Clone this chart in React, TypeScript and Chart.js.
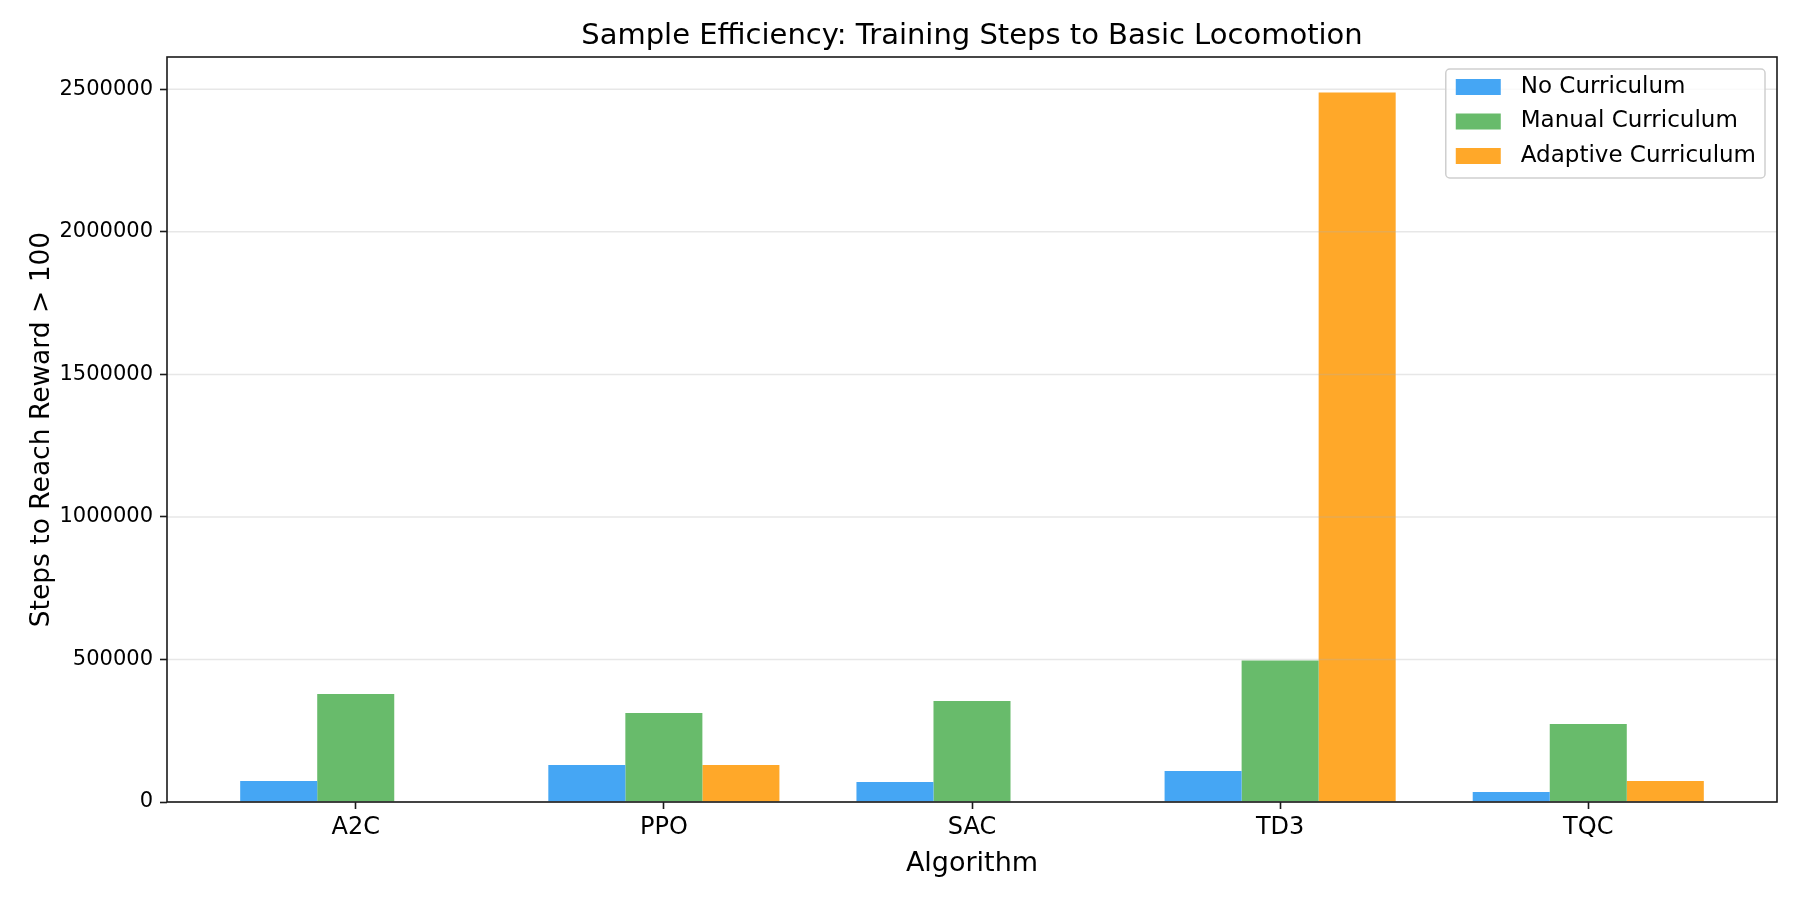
import React, { useEffect, useRef } from 'react';
import { Chart, registerables } from 'chart.js';

Chart.register(...registerables);

// values
const algorithms = ['A2C', 'PPO', 'SAC', 'TD3', 'TQC'];
const noCurriculum = [74000, 130000, 70000, 109000, 35000];
const manualCurriculum = [379000, 312000, 354000, 496000, 274000];
const adaptiveCurriculum = [null, 130000, null, 2489000, 74000];
const seriesLabels = ['No Curriculum', 'Manual Curriculum', 'Adaptive Curriculum'];
const seriesColors = ['#45A6F4', '#68BB6B', '#FFA829'];
const yTicks = [0, 500000, 1000000, 1500000, 2000000, 2500000];

const FONT = '"DejaVu Sans", sans-serif';
const TITLE = 'Sample Efficiency: Training Steps to Basic Locomotion';

// grid on top of the bars (matplotlib style, translucent) plus the axes frame
const framePlugin = {
  id: 'frame',
  afterDatasetsDraw(chart: any) {
    const { ctx, chartArea: a } = chart;
    const y = chart.scales.y;
    ctx.save();
    ctx.strokeStyle = 'rgba(176,176,176,0.3)';
    ctx.lineWidth = 1.5;
    y.ticks.forEach((t: any) => {
      const py = y.getPixelForValue(t.value);
      ctx.beginPath();
      ctx.moveTo(a.left, py);
      ctx.lineTo(a.right, py);
      ctx.stroke();
    });
    ctx.strokeStyle = '#1a1a1a';
    ctx.lineWidth = 1.6;
    ctx.strokeRect(a.left, a.top, a.right - a.left, a.bottom - a.top);
    ctx.restore();
  },
};

const titlePlugin = {
  id: 'mplTitle',
  afterDraw(chart: any) {
    const { ctx, chartArea: a } = chart;
    ctx.save();
    ctx.font = `29px ${FONT}`;
    ctx.fillStyle = '#000';
    ctx.textAlign = 'center';
    ctx.textBaseline = 'alphabetic';
    ctx.fillText(TITLE, (a.left + a.right) / 2, a.top - 13);
    ctx.restore();
  },
};

const legendPlugin = {
  id: 'mplLegend',
  afterDraw(chart: any) {
    const { ctx, chartArea: a } = chart;
    const sets = chart.data.datasets;
    ctx.save();
    ctx.font = `23px ${FONT}`;
    const textW = Math.max(...sets.map((d: any) => ctx.measureText(d.label).width));
    const w = 10 + 45 + 20 + textW + 9;
    const h = 109;
    const x = a.right - 12 - w;
    const y = a.top + 12;
    ctx.beginPath();
    ctx.roundRect(x, y, w, h, 4);
    ctx.fillStyle = 'rgba(255,255,255,0.8)';
    ctx.fill();
    ctx.strokeStyle = '#cfcfcf';
    ctx.lineWidth = 1.5;
    ctx.stroke();
    sets.forEach((d: any, i: number) => {
      const cy = y + 18 + i * 34.5;
      ctx.fillStyle = d.backgroundColor;
      ctx.fillRect(x + 10, cy - 8, 45, 16);
      ctx.fillStyle = '#000';
      ctx.textAlign = 'left';
      ctx.textBaseline = 'middle';
      ctx.fillText(d.label, x + 75, cy);
    });
    ctx.restore();
  },
};

const App: React.FC = () => {
  const canvasRef = useRef<HTMLCanvasElement>(null);
  const chartRef = useRef<Chart>();

  useEffect(() => {
    if (!canvasRef.current) return;
    const ctx = canvasRef.current.getContext('2d');
    if (!ctx) return;

    const series = [noCurriculum, manualCurriculum, adaptiveCurriculum];
    const yMax = Math.max(...(series.flat().filter(v => v !== null) as number[])) * 1.05;

    chartRef.current = new Chart(ctx, {
      type: 'bar',
      data: {
        datasets: series.map((vals, s) => ({
          label: seriesLabels[s],
          data: vals.map((v, i) => ({ x: i, y: v })),
          backgroundColor: seriesColors[s],
          borderWidth: 0,
          categoryPercentage: 0.75,
          barPercentage: 1.0,
        })),
      },
      options: {
        animation: false,
        responsive: true,
        maintainAspectRatio: false,
        layout: { padding: { top: 57, right: 23, left: 0, bottom: 0 } },
        plugins: {
          legend: { display: false },
          title: { display: false },
          tooltip: { enabled: false },
        },
        scales: {
          x: {
            type: 'linear',
            min: -0.6125,
            max: algorithms.length - 1 + 0.6125,
            offset: false,
            afterBuildTicks: (scale: any) => {
              scale.ticks = algorithms.map((_, i) => ({ value: i }));
            },
            afterFit: (scale: any) => {
              scale.height = 98;
            },
            ticks: {
              autoSkip: false,
              maxRotation: 0,
              padding: 4,
              color: '#000',
              font: { family: FONT, size: 24 },
              callback: (v: any) => algorithms[v as number] ?? '',
            },
            grid: {
              offset: false,
              drawOnChartArea: false,
              drawTicks: true,
              tickLength: 7,
              tickWidth: 1.6,
              tickColor: '#1a1a1a',
            },
            border: { display: false },
            title: {
              display: true,
              text: 'Algorithm',
              color: '#000',
              font: { family: FONT, size: 27 },
              padding: { top: 0, bottom: 20 },
            },
          },
          y: {
            min: 0,
            max: yMax,
            afterBuildTicks: (scale: any) => {
              scale.ticks = yTicks.map(v => ({ value: v }));
            },
            afterFit: (scale: any) => {
              scale.width = 167;
            },
            ticks: {
              padding: 7,
              color: '#000',
              font: { family: FONT, size: 21 },
              callback: (v: any) => String(v),
            },
            grid: {
              drawOnChartArea: false,
              drawTicks: true,
              tickLength: 7,
              tickWidth: 1.6,
              tickColor: '#1a1a1a',
            },
            border: { display: false },
            title: {
              display: true,
              text: 'Steps to Reach Reward > 100',
              color: '#000',
              font: { family: FONT, size: 26.5 },
              padding: { top: 26, bottom: 0 },
            },
          },
        },
      },
      plugins: [framePlugin, titlePlugin, legendPlugin],
    } as any);

    return () => {
      if (chartRef.current) {
        chartRef.current.destroy();
      }
    };
  }, []);

  return (
    <div style={{ position: 'absolute', left: 0, top: 0, width: 1800, height: 900, background: '#fff' }}>
      <canvas ref={canvasRef} />
    </div>
  );
};

export default App;
